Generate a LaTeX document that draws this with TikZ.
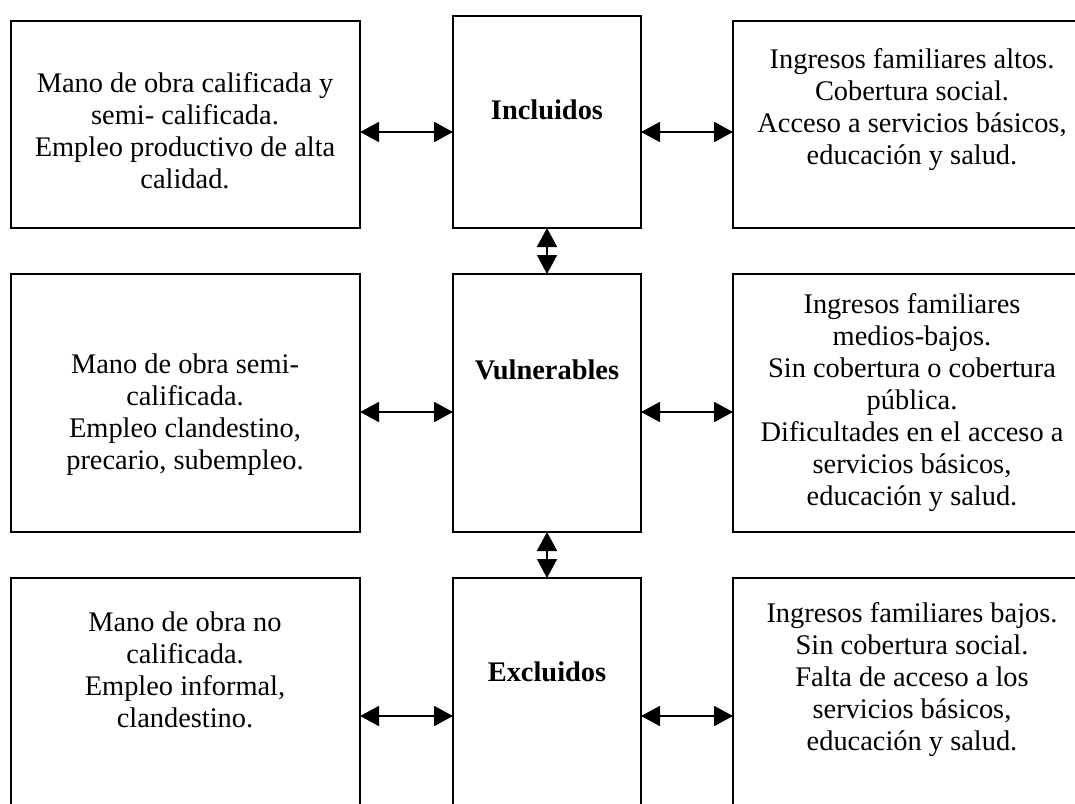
\documentclass[tikz,border=0pt]{standalone}
\usepackage{fontspec}
\setmainfont{Liberation Serif}
\usetikzlibrary{arrows.meta}
\begin{document}
\begin{tikzpicture}[x=1pt,y=-1pt,
  box/.style={draw, line width=1.8pt, inner sep=0pt, outer sep=0pt, anchor=north west},
  sidebox/.style={box, minimum width=349pt},
  rightbox/.style={box, minimum width=358pt},
  midbox/.style={box, minimum width=188pt},
  txt/.style={align=center, font=\fontsize{28.4}{32}\selectfont, inner sep=0pt},
  lbl/.style={font=\fontsize{28.4}{32}\selectfont\bfseries, inner sep=0pt},
  biarrow/.style={line width=1.8pt, {Triangle[length=19pt,width=20pt]}-{Triangle[length=19pt,width=20pt]}}]
\useasboundingbox (0,0) rectangle (1075,803);
\clip (0,0) rectangle (1075,803);
\fill[white] (0,0) rectangle (1075,803);

% boxes
\node[sidebox,  minimum height=207pt] (TL) at (11,21) {};
\node[midbox,   minimum height=212pt] (TM) at (453,16) {};
\node[rightbox, minimum height=207pt] (TR) at (733,21) {};
\node[sidebox,  minimum height=258pt] (ML) at (11,274) {};
\node[midbox,   minimum height=258pt] (MM) at (453,274) {};
\node[rightbox, minimum height=258pt] (MR) at (733,274) {};
\node[sidebox,  minimum height=260pt] (BL) at (11,578) {};
\node[midbox,   minimum height=260pt] (BM) at (453,578) {};
\node[rightbox, minimum height=260pt] (BR) at (733,578) {};

% texts
\node[txt] (tTL) at (185,131) {Mano de obra calificada y\\semi- calificada.\\Empleo productivo de alta\\calidad.};
\node[lbl] (tTM) at (547,110) {Incluidos};
\node[txt] (tTR) at (912,110) {Ingresos familiares altos.\\Cobertura social.\\Acceso a servicios básicos,\\educación y salud.};
\node[txt] (tML) at (185,415) {Mano de obra semi-\\calificada.\\Empleo clandestino,\\precario, subempleo.};
\node[lbl] (tMM) at (547,370) {Vulnerables};
\node[txt] (tMR) at (912,403) {Ingresos familiares\\medios-bajos.\\Sin cobertura o cobertura\\pública.\\Dificultades en el acceso a\\servicios básicos,\\educación y salud.};
\node[txt] (tBL) at (185,670) {Mano de obra no\\calificada.\\Empleo informal,\\clandestino.};
\node[lbl] (tBM) at (547,672) {Excluidos};
\node[txt] (tBR) at (912,680) {Ingresos familiares bajos.\\Sin cobertura social.\\Falta de acceso a los\\servicios básicos,\\educación y salud.};

% arrow rows
\coordinate (r1) at (0,132);
\coordinate (r2) at (0,412);
\coordinate (r3) at (0,716);

\draw[biarrow] (TL.east |- r1) -- (TM.west |- r1);
\draw[biarrow] (TM.east |- r1) -- (TR.west |- r1);
\draw[biarrow] (ML.east |- r2) -- (MM.west |- r2);
\draw[biarrow] (MM.east |- r2) -- (MR.west |- r2);
\draw[biarrow] (BL.east |- r3) -- (BM.west |- r3);
\draw[biarrow] (BM.east |- r3) -- (BR.west |- r3);
\draw[biarrow] (TM.south) -- (MM.north);
\draw[biarrow] (MM.south) -- (BM.north);
\end{tikzpicture}
\end{document}
